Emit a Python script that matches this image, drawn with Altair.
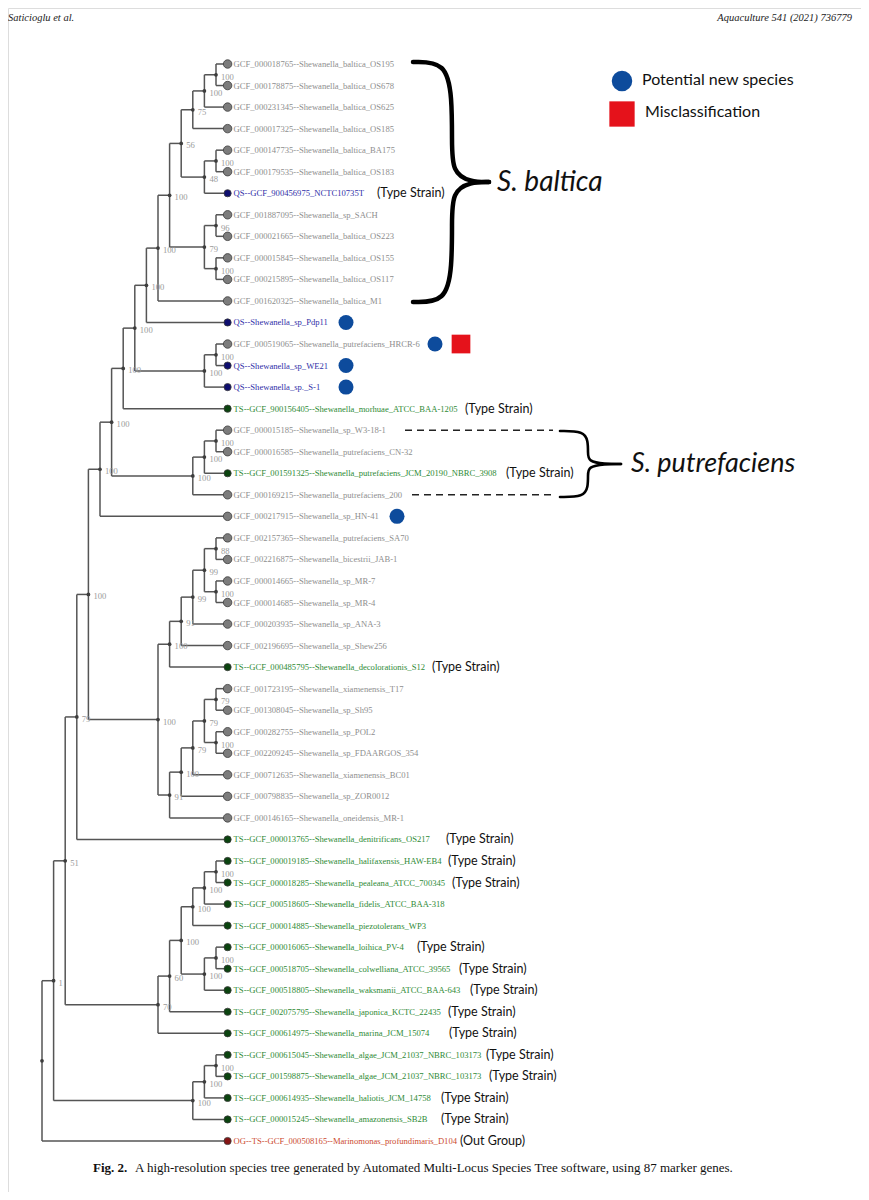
import altair as alt
import pandas as pd

# ---------------- data ----------------
leaf_labels = [
    "GCF_000018765--Shewanella_baltica_OS195",
    "GCF_000178875--Shewanella_baltica_OS678",
    "GCF_000231345--Shewanella_baltica_OS625",
    "GCF_000017325--Shewanella_baltica_OS185",
    "GCF_000147735--Shewanella_baltica_BA175",
    "GCF_000179535--Shewanella_baltica_OS183",
    "QS--GCF_900456975_NCTC10735T",
    "GCF_001887095--Shewanella_sp_SACH",
    "GCF_000021665--Shewanella_baltica_OS223",
    "GCF_000015845--Shewanella_baltica_OS155",
    "GCF_000215895--Shewanella_baltica_OS117",
    "GCF_001620325--Shewanella_baltica_M1",
    "QS--Shewanella_sp_Pdp11",
    "GCF_000519065--Shewanella_putrefaciens_HRCR-6",
    "QS--Shewanella_sp_WE21",
    "QS--Shewanella_sp._S-1",
    "TS--GCF_900156405--Shewanella_morhuae_ATCC_BAA-1205",
    "GCF_000015185--Shewanella_sp_W3-18-1",
    "GCF_000016585--Shewanella_putrefaciens_CN-32",
    "TS--GCF_001591325--Shewanella_putrefaciens_JCM_20190_NBRC_3908",
    "GCF_000169215--Shewanella_putrefaciens_200",
    "GCF_000217915--Shewanella_sp_HN-41",
    "GCF_002157365--Shewanella_putrefaciens_SA70",
    "GCF_002216875--Shewanella_bicestrii_JAB-1",
    "GCF_000014665--Shewanella_sp_MR-7",
    "GCF_000014685--Shewanella_sp_MR-4",
    "GCF_000203935--Shewanella_sp_ANA-3",
    "GCF_002196695--Shewanella_sp_Shew256",
    "TS--GCF_000485795--Shewanella_decolorationis_S12",
    "GCF_001723195--Shewanella_xiamenensis_T17",
    "GCF_001308045--Shewanella_sp_Sh95",
    "GCF_000282755--Shewanella_sp_POL2",
    "GCF_002209245--Shewanella_sp_FDAARGOS_354",
    "GCF_000712635--Shewanella_xiamenensis_BC01",
    "GCF_000798835--Shewanella_sp_ZOR0012",
    "GCF_000146165--Shewanella_oneidensis_MR-1",
    "TS--GCF_000013765--Shewanella_denitrificans_OS217",
    "TS--GCF_000019185--Shewanella_halifaxensis_HAW-EB4",
    "TS--GCF_000018285--Shewanella_pealeana_ATCC_700345",
    "TS--GCF_000518605--Shewanella_fidelis_ATCC_BAA-318",
    "TS--GCF_000014885--Shewanella_piezotolerans_WP3",
    "TS--GCF_000016065--Shewanella_loihica_PV-4",
    "TS--GCF_000518705--Shewanella_colwelliana_ATCC_39565",
    "TS--GCF_000518805--Shewanella_waksmanii_ATCC_BAA-643",
    "TS--GCF_002075795--Shewanella_japonica_KCTC_22435",
    "TS--GCF_000614975--Shewanella_marina_JCM_15074",
    "TS--GCF_000615045--Shewanella_algae_JCM_21037_NBRC_103173",
    "TS--GCF_001598875--Shewanella_algae_JCM_21037_NBRC_103173",
    "TS--GCF_000614935--Shewanella_haliotis_JCM_14758",
    "TS--GCF_000015245--Shewanella_amazonensis_SB2B",
    "OG--TS--GCF_000508165--Marinomonas_profundimaris_D104",
]

# leaf index -> side note
type_strain_leaves = [6, 16, 19, 28, 36, 37, 38, 41, 42, 43, 44, 45, 46, 47, 48, 49]
outgroup_leaves = [50]
new_species_leaves = [12, 13, 14, 15, 21]
misclass_leaves = [13]


def N(label, *kids):
    return (label, list(kids))


# topology with bootstrap support (leaves are indices into leaf_labels)
tree = N("",
  N("1",
    N("51",
      N("79",
        N("100",
          N("100",
            N("100",
              N("100",
                N("100",
                  N("100",
                    N("100",
                      N("100",
                        N("56",
                          N("75", N("100", N("100", 0, 1), 2), 3),
                          N("48", N("100", 4, 5), 6)),
                        N("79", N("96", 7, 8), N("100", 9, 10))),
                      11),
                    12),
                  N("100", N("100", 13, 14), 15)),
                16),
              N("100", N("100", N("100", 17, 18), 19), 20)),
            21),
          N("100",
            N("100",
              N("91", N("99", N("99", N("88", 22, 23), N("100", 24, 25)), 26), 27),
              28),
            N("91",
              N("100", N("79", N("79", N("79", 29, 30), N("100", 31, 32)), 33), 34),
              35))),
        36),
      N("70",
        N("60",
          N("100",
            N("100", N("100", N("100", 37, 38), 39), 40),
            N("100", N("100", 41, 42), 43)),
          44),
        45)),
    N("100", N("100", N("100", 46, 47), 48), 49)),
  50)

# ---------------- layout (cladogram) ----------------
records = []


def walk(node):
    if isinstance(node, int):
        return 0, float(node)
    label, kids = node
    res = [walk(k) for k in kids]
    h = 1 + max(r[0] for r in res)
    y = (res[0][1] + res[-1][1]) / 2.0
    records.append((label, h, y, res))
    return h, y


H, _ = walk(tree)

segs, inner = [], []
for label, h, y, res in records:
    xn = H - h
    segs.append(dict(x=xn, x2=xn, y=res[0][1], y2=res[-1][1]))
    for ch, cy in res:
        segs.append(dict(x=xn, x2=H - ch, y=cy, y2=cy))
    inner.append(dict(x=xn, y=y, lab=label))
seg_df = pd.DataFrame(segs)
inner_df = pd.DataFrame(inner)


def kind(s):
    if s.startswith("OG"):
        return "Out group"
    if s.startswith("TS"):
        return "Type strain"
    if s.startswith("QS"):
        return "Query"
    return "Reference"


TEXT_COL = {"Reference": "#8e8e8e", "Query": "#2f2fa8", "Type strain": "#2e8a35",
            "Out group": "#cc4a2e"}
DOT_COL = {"Reference": "#7c7c7c", "Query": "#0e0e6e", "Type strain": "#0b430f",
           "Out group": "#851414"}
DOT_SIZE = {"Reference": 72, "Query": 52, "Type strain": 52, "Out group": 52}

kinds_list = [kind(s) for s in leaf_labels]
leaf_df = pd.DataFrame(dict(x=[H] * len(leaf_labels), y=list(range(len(leaf_labels))),
                            lab=leaf_labels, kind=kinds_list,
                            tc=[TEXT_COL[k] for k in kinds_list],
                            dc=[DOT_COL[k] for k in kinds_list],
                            ds=[DOT_SIZE[k] for k in kinds_list]))

# ---- decoration layout (pixel positions on the page, converted to tree units) ----
PX0, PXU, PY0, PYU = 42.0, 11.6, 64.0, 21.54


def ux(px):
    return (px - PX0) / PXU


def uy(py):
    return (py - PY0) / PYU


note_px = {6: 377, 16: 465, 19: 506, 28: 432, 36: 446, 37: 448, 38: 452, 41: 417,
           42: 459, 43: 470, 44: 448, 45: 449, 46: 486, 47: 489, 48: 441, 49: 441, 50: 460}
new_px = {12: 346, 13: 435, 14: 346, 15: 346, 21: 397}
mis_px = {13: 461}

notes = [dict(x=ux(note_px[i]), y=i, t="(Type Strain)") for i in type_strain_leaves] + \
        [dict(x=ux(note_px[i]), y=i, t="(Out Group)") for i in outgroup_leaves]
notes_df = pd.DataFrame(notes)
new_df = pd.DataFrame([dict(x=ux(new_px[i]), y=i) for i in new_species_leaves])
mis_df = pd.DataFrame([dict(x=ux(mis_px[i]), y=i) for i in misclass_leaves])


def brace(x0, xs, xt, y0, y1, name):
    ym = (y0 + y1) / 2.0
    hh = (ym - y0)
    top = [(x0, y0), (xs - 0.15 * (xs - x0), y0), (xs, y0 + 0.3 * hh), (xs, y0 + 0.65 * hh),
           (xs, y0 + 0.92 * hh), (xs + 0.5 * (xt - xs), ym), (xt, ym)]
    bot = [(xt, ym), (xs + 0.5 * (xt - xs), ym), (xs, y1 - 0.92 * hh), (xs, y1 - 0.65 * hh),
           (xs, y1 - 0.3 * hh), (xs - 0.15 * (xs - x0), y1), (x0, y1)]
    rows = []
    for part, pts in (("a", top), ("b", bot)):
        for o, (px, py) in enumerate(pts):
            rows.append(dict(x=ux(px), y=uy(py), o=o, part=name + part))
    return rows


brace1 = pd.DataFrame(brace(413, 452, 489, 62, 302, "balt"))
brace2 = pd.DataFrame(brace(560, 588, 621, 431, 497, "putr"))
dash_df = pd.DataFrame([dict(x=ux(405), x2=ux(553), y=17, y2=17),
                        dict(x=ux(412), x2=ux(553), y=20, y2=20)])

# ---------------- chart ----------------
W, Hh = 853, 1184
xs = alt.Scale(domain=[ux(8), ux(861)], nice=False, zero=False)
ys = alt.Scale(domain=[uy(8), uy(1192)], nice=False, zero=False, reverse=True)


def X(f="x"):
    return alt.X(f + ":Q", scale=xs, axis=None)


def Y(f="y"):
    return alt.Y(f + ":Q", scale=ys, axis=None)


branches = alt.Chart(seg_df).mark_rule(color="#555555", strokeWidth=1.5).encode(
    x=X(), x2="x2:Q", y=Y(), y2="y2:Q")
nodes = alt.Chart(inner_df).mark_circle(color="#3d3d3d", opacity=1, size=14).encode(x=X(), y=Y())
support = alt.Chart(inner_df).mark_text(align="left", baseline="middle", dx=5, dy=2,
                                        font="Liberation Serif", fontSize=8.6,
                                        color="#9a9a9a").encode(x=X(), y=Y(), text="lab:N")
tips = alt.Chart(leaf_df).mark_circle(opacity=1, stroke="#3c3c3c", strokeWidth=0.8).encode(
    x=X(), y=Y(), color=alt.Color("dc:N", scale=None),
    size=alt.Size("ds:Q", scale=None))
tip_text = alt.Chart(leaf_df).mark_text(align="left", baseline="middle", dx=6,
                                        font="Liberation Serif", fontSize=8.6).encode(
    x=X(), y=Y(), text="lab:N", color=alt.Color("tc:N", scale=None))
note_text = alt.Chart(notes_df).mark_text(align="left", baseline="middle", font="Lato",
                                          fontSize=12.5, color="#111111").encode(
    x=X(), y=Y(), text="t:N")
new_marks = alt.Chart(new_df).mark_point(shape="circle", filled=True, opacity=1,
                                         color="#0d4b9c", size=225).encode(x=X(), y=Y())
mis_marks = alt.Chart(mis_df).mark_point(shape="square", filled=True, opacity=1,
                                         color="#e5121b", size=350).encode(x=X(), y=Y())
br1 = alt.Chart(brace1).mark_line(interpolate="basis", color="black", strokeWidth=4.5,
                                  strokeCap="round").encode(
    x=X(), y=Y(), order="o:Q", detail="part:N")
br2 = alt.Chart(brace2).mark_line(interpolate="basis", color="black", strokeWidth=2.6,
                                  strokeCap="round").encode(
    x=X(), y=Y(), order="o:Q", detail="part:N")
dashes = alt.Chart(dash_df).mark_rule(color="#222222", strokeWidth=1.6,
                                      strokeDash=[7, 5]).encode(x=X(), x2="x2:Q", y=Y(), y2="y2:Q")

clade_df = pd.DataFrame([dict(x=ux(497), y=uy(183), t="S. baltica", s=28),
                         dict(x=ux(631), y=uy(464), t="S. putrefaciens", s=27)])
clades = alt.Chart(clade_df).mark_text(align="left", baseline="middle", font="Lato",
                                       fontStyle="italic", color="#111111").encode(
    x=X(), y=Y(), text="t:N", size=alt.Size("s:Q", scale=None, legend=None))

leg_sym = pd.DataFrame([dict(x=ux(622), y=uy(81))])
leg_sq = pd.DataFrame([dict(x=ux(622), y=uy(114))])
leg_txt = pd.DataFrame([dict(x=ux(642), y=uy(80), t="Potential new species"),
                        dict(x=ux(645), y=uy(112), t="Misclassification")])
legend_c = alt.Chart(leg_sym).mark_point(shape="circle", filled=True, opacity=1,
                                         color="#0d4b9c", size=420).encode(x=X(), y=Y())
legend_s = alt.Chart(leg_sq).mark_point(shape="square", filled=True, opacity=1,
                                        color="#e5121b", size=640).encode(x=X(), y=Y())
legend_t = alt.Chart(leg_txt).mark_text(align="left", baseline="middle", font="Lato",
                                        fontSize=16, color="#111111").encode(
    x=X(), y=Y(), text="t:N")

one = pd.DataFrame({"k": [0]})
hdr_l = alt.Chart(one).mark_text(align="left", baseline="middle", font="Liberation Serif",
                                 fontStyle="italic", fontSize=10.5, color="#222222").encode(
    x=alt.value(0), y=alt.value(10), text=alt.value("Saticioglu et al."))
hdr_r = alt.Chart(one).mark_text(align="right", baseline="middle", font="Liberation Serif",
                                 fontStyle="italic", fontSize=10.5, color="#222222").encode(
    x=alt.value(844), y=alt.value(10), text=alt.value("Aquaculture 541 (2021) 736779"))
cap_b = alt.Chart(one).mark_text(align="left", baseline="middle", font="Liberation Serif",
                                 fontWeight="bold", fontSize=13, color="#111111").encode(
    x=alt.value(85), y=alt.value(1160), text=alt.value("Fig. 2."))
cap_t = alt.Chart(one).mark_text(align="left", baseline="middle", font="Liberation Serif",
                                 fontSize=13, color="#111111").encode(
    x=alt.value(127), y=alt.value(1160),
    text=alt.value("A high-resolution species tree generated by Automated Multi-Locus "
                   "Species Tree software, using 87 marker genes."))

chart = alt.layer(
    branches, nodes, support, tips, tip_text, note_text, new_marks, mis_marks,
    br1, br2, dashes, clades, legend_c, legend_s, legend_t, hdr_l, hdr_r, cap_b, cap_t
).properties(
    width=W, height=Hh, padding=0, autosize=alt.AutoSizeParams(type="none")
).configure_view(stroke=None).configure(background="white")

chart.save("out.html", embed_options={"renderer": "svg", "actions": False})
